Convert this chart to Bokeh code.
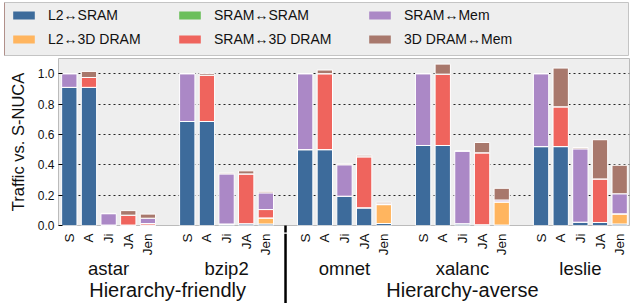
import math
from bokeh.plotting import figure
from bokeh.layouts import column, row
from bokeh.models import (ColumnDataSource, Range1d, FixedTicker, Legend,
                          LegendItem, NumeralTickFormatter)
from bokeh.core.properties import value
from bokeh.embed import file_html
from bokeh.resources import INLINE

# ---------------- data ----------------
benchmarks = ["astar", "bzip2", "omnet", "xalanc", "leslie"]
schemes = ["S", "A", "Ji", "JA", "Jen"]
hierarchy_labels = ["Hierarchy-friendly", "Hierarchy-averse"]
series_names = ["L2\u2194SRAM", "L2\u21943D DRAM", "SRAM\u2194SRAM",
                "SRAM\u21943D DRAM", "SRAM\u2194Mem", "3D DRAM\u2194Mem"]

# per bar, order: astar S,A,Ji,JA,Jen, bzip2 ..., omnet ..., xalanc ..., leslie ...
l2_sram = [0.91, 0.91, 0.003, 0.003, 0.003,
           0.685, 0.685, 0.01, 0.012, 0.01,
           0.50, 0.50, 0.193, 0.117, 0.013,
           0.527, 0.527, 0.012, 0.005, 0.003,
           0.52, 0.52, 0.022, 0.02, 0.01]
l2_3d = [0, 0, 0, 0, 0,
         0, 0, 0, 0, 0.04,
         0, 0, 0, 0, 0.125,
         0, 0, 0, 0, 0.153,
         0, 0, 0, 0, 0.067]
sram_sram = [0, 0, 0, 0, 0,
             0, 0, 0, 0, 0,
             0, 0, 0, 0, 0,
             0, 0, 0, 0, 0,
             0, 0, 0, 0, 0]
sram_3d = [0, 0.065, 0, 0.065, 0.01,
           0, 0.305, 0, 0.328, 0.055,
           0, 0.50, 0, 0.336, 0,
           0, 0.47, 0, 0.474, 0,
           0, 0.262, 0, 0.287, 0]
sram_mem = [0.09, 0, 0.075, 0, 0.035,
            0.315, 0, 0.33, 0, 0.11,
            0.50, 0, 0.207, 0, 0.005,
            0.473, 0, 0.478, 0, 0.012,
            0.48, 0, 0.483, 0, 0.132]
dram_mem = [0, 0.04, 0.002, 0.03, 0.027,
            0, 0.012, 0.005, 0.02, 0.01,
            0, 0.024, 0.005, 0.01, 0.01,
            0, 0.066, 0, 0.068, 0.077,
            0, 0.255, 0.009, 0.258, 0.188]

colors = ["#3d6b9b", "#ffb55f", "#6bbf5b", "#ef645d", "#ab88c6", "#a8786c"]
FONT = "Liberation Sans"
TXT = "#111111"

# ---------------- positions ----------------
slots = len(schemes) + 1
xs = [g * slots + b for g in range(len(benchmarks)) for b in range(len(schemes))]
scheme_labels = [schemes[i % len(schemes)] for i in range(len(xs))]
centers = [g * slots + 2 for g in range(len(benchmarks))]
hcent = [(centers[0] + centers[1]) / 2, centers[3]]
div_x = [2 * slots - 1]
keys = ["l2_sram", "l2_3d", "sram_sram", "sram_3d", "sram_mem", "dram_mem"]
src = ColumnDataSource(dict(x=xs, l2_sram=l2_sram, l2_3d=l2_3d, sram_sram=sram_sram,
                            sram_3d=sram_3d, sram_mem=sram_mem, dram_mem=dram_mem))

xr = Range1d(-0.55, xs[-1] + 0.5)

# ---------------- legend strip ----------------
leg = figure(width=633, height=57, output_backend="svg", toolbar_location=None,
             x_axis_type=None, y_axis_type=None, x_range=Range1d(0, 1), y_range=Range1d(0, 1),
             min_border_left=4, min_border_right=5, min_border_top=2, min_border_bottom=2)
leg.background_fill_color = "#eeeeee"
leg.border_fill_color = "white"
leg.outline_line_color = "#c4c4c4"
# legend swatches only (single point kept outside the visible range)
dummies = [leg.vbar(x=[-10], top=[1], width=0.5, fill_color=c, line_color=None) for c in colors]
col_x = [6, 172, 362]
for c in range(3):
    its = [LegendItem(label=series_names[c * 2 + r], renderers=[dummies[c * 2 + r]]) for r in range(2)]
    lg = Legend(items=its, location=(col_x[c], 6),
                label_text_font=FONT, label_text_font_size="14px", label_text_color=TXT,
                glyph_width=27, glyph_height=10, label_standoff=11, label_height=20,
                spacing=4, padding=0, margin=0,
                background_fill_alpha=0, border_line_color=None)
    leg.add_layout(lg, "center")

# ---------------- main plot ----------------
p = figure(width=633, height=176, output_backend="svg", toolbar_location=None,
           x_range=xr, y_range=Range1d(0, 1.1),
           min_border_left=58, min_border_right=4, min_border_top=1, min_border_bottom=8)
p.background_fill_color = "#eeeeee"
p.border_fill_color = "white"
p.outline_line_color = "#bbbbbb"

rs = p.vbar_stack(keys, x="x", width=0.78, source=src, color=colors,
                  line_color="white", line_width=1)

p.yaxis.ticker = FixedTicker(ticks=[0, 0.2, 0.4, 0.6, 0.8, 1.0])
p.yaxis.formatter = NumeralTickFormatter(format="0.0")
p.yaxis.axis_label = "Traffic vs. S-NUCA"
p.yaxis.axis_label_text_font = FONT
p.yaxis.axis_label_text_font_size = "16.5px"
p.yaxis.axis_label_text_font_style = "normal"
p.yaxis.axis_label_text_color = TXT
p.yaxis.axis_label_standoff = 8
p.yaxis.major_label_text_font = FONT
p.yaxis.major_label_text_font_size = "12px"
p.yaxis.major_label_text_color = TXT
p.yaxis.major_label_standoff = 4
p.yaxis.axis_line_color = None
p.yaxis.major_tick_in = 4
p.yaxis.major_tick_out = 0
p.yaxis.minor_tick_line_color = None
p.ygrid.grid_line_color = "black"
p.ygrid.grid_line_dash = "2 3"
p.ygrid.grid_line_alpha = 0.85
p.xgrid.grid_line_color = None

# x axis of the main plot only carries the top of the group divider
xa = p.xaxis[0]
xa.ticker = FixedTicker(ticks=div_x)
xa.major_tick_out = 7
xa.major_tick_in = 0
xa.major_tick_line_width = 2.5
xa.major_tick_line_color = "black"
xa.minor_tick_line_color = None
xa.axis_line_color = None
xa.major_label_standoff = 0
xa.major_label_text_font_size = "1px"
xa.major_label_text_color = None

# ---------------- labels strip below the plot ----------------
b = figure(width=633, height=70, output_backend="svg", toolbar_location=None,
           x_axis_type=None, y_axis_type=None, x_range=xr, y_range=Range1d(-70, 0),
           min_border_left=58, min_border_right=4, min_border_top=0, min_border_bottom=0)
b.background_fill_color = "white"
b.border_fill_color = "white"
b.outline_line_color = None

b.text(x=xs, y=0, text=scheme_labels, angle=math.pi / 2, y_offset=0,
       text_align="right", text_baseline="middle",
       text_font=value(FONT), text_font_size="13.5px", text_color=TXT)
b.text(x=centers, y=0, text=benchmarks, y_offset=35,
       text_align="center", text_baseline="alphabetic",
       text_font=value(FONT), text_font_size="18.5px", text_color=TXT)
b.text(x=hcent, y=0, text=hierarchy_labels, y_offset=56,
       text_align="center", text_baseline="alphabetic",
       text_font=value(FONT), text_font_size="20px", text_color=TXT)
b.segment(x0=div_x, y0=[0], x1=div_x, y1=[-70], line_color="black", line_width=2.5)

layout = column(row(leg), column(p, b, spacing=0), spacing=0)
open("out.html", "w").write(file_html(layout, INLINE))
